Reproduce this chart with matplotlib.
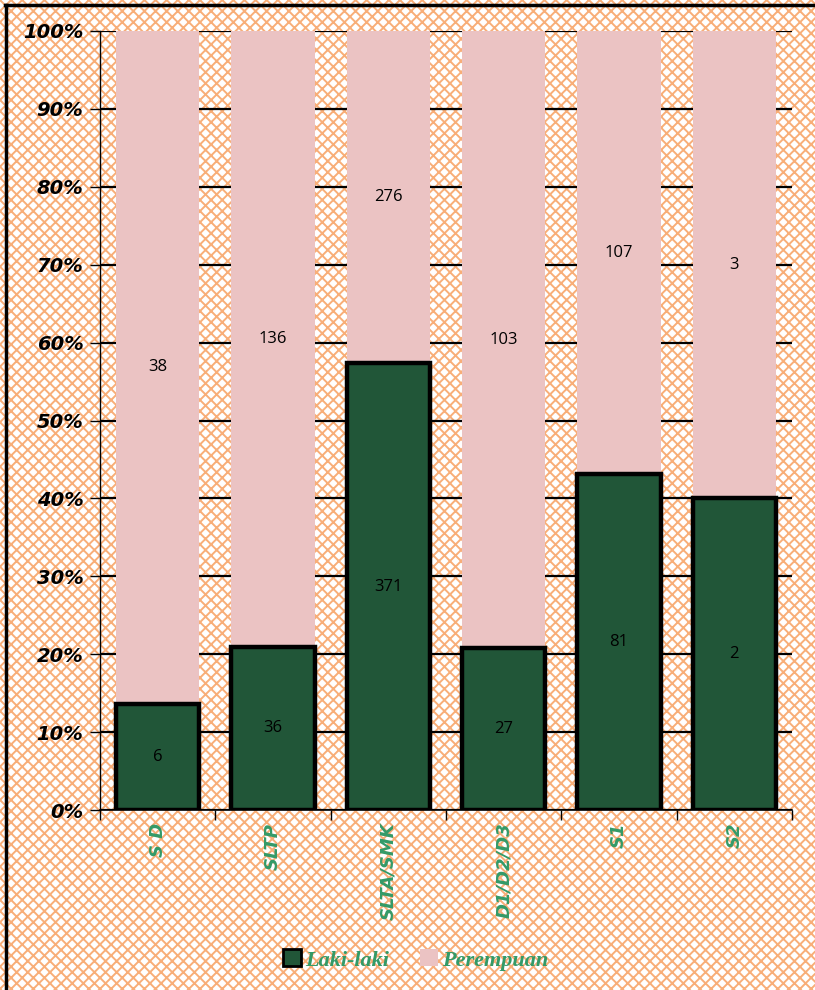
import numpy as np
import matplotlib.pyplot as plt
from matplotlib.patches import Rectangle
from matplotlib.lines import Line2D

# data
kategori = ['S D', 'SLTP', 'SLTA/SMK', 'D1/D2/D3', 'S1', 'S2']
laki = [6, 36, 371, 27, 81, 2]
perempuan = [38, 136, 276, 103, 107, 3]

laki = np.array(laki, dtype=float)
perempuan = np.array(perempuan, dtype=float)
total = laki + perempuan
p_laki = laki / total * 100
p_perempuan = perempuan / total * 100

hijau = '#215638'
pink = '#ebc3c3'
hijau_teks = '#339a68'

plt.rcParams['hatch.linewidth'] = 1.4

fig = plt.figure(figsize=(8.15, 9.9), dpi=100)

# background pola oranye
bg = Rectangle((0, 0), 1, 1, transform=fig.transFigure, facecolor='white',
               edgecolor='#f8ae78', hatch='xxx', linewidth=0, zorder=-10)
fig.patches.append(bg)
# garis tepi (atas dan kiri)
fig.add_artist(Line2D([5/815, 1], [1-5/990, 1-5/990], transform=fig.transFigure, color='black', lw=2.5))
fig.add_artist(Line2D([6/815, 6/815], [0, 1-5/990], transform=fig.transFigure, color='black', lw=2.5))

ax = fig.add_axes([100/815, 1-810/990, 692/815, 779/990])
ax.patch.set_alpha(0)

x = np.arange(len(kategori))
w = 0.72
ax.bar(x, p_laki, width=w, color=hijau, edgecolor='black', linewidth=3.2, zorder=3)
ax.bar(x, p_perempuan, width=w, bottom=p_laki, color=pink, linewidth=0, zorder=2)

for i in range(len(kategori)):
    ax.text(x[i], p_laki[i] / 2, '%d' % laki[i], ha='center', va='center',
            fontsize=12, family='Open Sans', color='black', zorder=5)
    ax.text(x[i], p_laki[i] + p_perempuan[i] / 2, '%d' % perempuan[i], ha='center', va='center',
            fontsize=12, family='Open Sans', color='black', zorder=5)

ax.set_xlim(-0.5, len(kategori) - 0.5)
ax.set_ylim(0, 100)
ax.set_yticks(np.arange(0, 101, 10))
ax.set_yticklabels(['%d%%' % v for v in range(0, 101, 10)], fontsize=14,
                   fontweight='bold', fontstyle='italic')
ax.yaxis.grid(True, color='black', linewidth=1.6, zorder=1)
ax.set_axisbelow(True)

ax.set_xticks(np.arange(-0.5, len(kategori), 1))
ax.set_xticklabels([])
ax.set_xticks(x, minor=True)
ax.set_xticklabels(kategori, minor=True, rotation=90, ha='center', va='top',
                   fontsize=13, fontweight='bold', fontstyle='italic', color=hijau_teks)
ax.tick_params(axis='x', which='minor', length=0, pad=9)
ax.tick_params(axis='x', which='major', length=7, width=1, direction='out')
ax.tick_params(axis='y', length=7, width=1, direction='out', pad=5)

for s in ['top', 'right']:
    ax.spines[s].set_visible(False)
ax.spines['left'].set_linewidth(1)
ax.spines['bottom'].set_linewidth(1.2)

# legenda
h1 = Rectangle((0, 0), 1, 1, facecolor=hijau, edgecolor='black', linewidth=2)
h2 = Rectangle((0, 0), 1, 1, facecolor=pink, linewidth=0)
leg = fig.legend([h1, h2], ['Laki-laki', 'Perempuan'], loc='center', bbox_to_anchor=(0.51, 1-960/990),
                 ncol=2, frameon=False, handlelength=0.8, handleheight=0.8, handletextpad=0.2,
                 columnspacing=1.4, prop={'family': 'Liberation Serif', 'weight': 'bold',
                                          'style': 'italic', 'size': 16})
for t in leg.get_texts():
    t.set_color(hijau_teks)

fig.savefig('out.png', dpi=100)
